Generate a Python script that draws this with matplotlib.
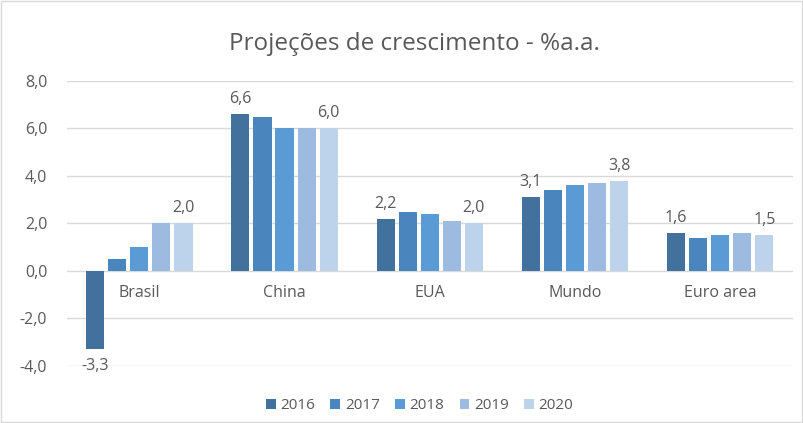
import matplotlib.pyplot as plt
import numpy as np
from matplotlib.patches import Rectangle

plt.rcParams['font.family'] = ['Open Sans', 'DejaVu Sans']

# dados
paises = ['Brasil', 'China', 'EUA', 'Mundo', 'Euro area']
anos = ['2016', '2017', '2018', '2019', '2020']
v2016 = [-3.3, 6.6, 2.2, 3.1, 1.6]
v2017 = [0.5, 6.5, 2.5, 3.4, 1.4]
v2018 = [1.0, 6.0, 2.4, 3.6, 1.5]
v2019 = [2.0, 6.0, 2.1, 3.7, 1.6]
v2020 = [2.0, 6.0, 2.0, 3.8, 1.5]
series = [v2016, v2017, v2018, v2019, v2020]
cores = ['#41719c', '#4a86bd', '#5b9bd5', '#9dbbe0', '#bdd3ec']

cinza = '#595959'
fs = 11.5

fig = plt.figure(figsize=(8.04, 4.23), dpi=100)
ax = fig.add_axes([0.083, 0.135, 0.903, 0.6735])

x = np.arange(len(paises))
passo = 0.152
larg = 0.125
for i, (vals, c, ano) in enumerate(zip(series, cores, anos)):
    pos = x + (i - 2) * passo
    ax.bar(pos, vals, width=larg, color=c, label=ano, zorder=3)
    # rotulos so no primeiro e ultimo ano
    if i in (0, 4):
        for px, v in zip(pos, vals):
            txt = f'{v:.1f}'.replace('.', ',')
            if v < 0:
                ax.text(px, v - 0.35, txt, ha='center', va='top', fontsize=fs, color=cinza)
            else:
                ax.text(px, v + 0.3, txt, ha='center', va='bottom', fontsize=fs, color=cinza)

for xi, p in zip(x, paises):
    ax.text(xi, -0.6, p, ha='center', va='top', fontsize=fs, color=cinza)

ax.set_ylim(-4, 8)
ax.set_xlim(-0.5, len(paises) - 0.5)
ax.set_yticks(np.arange(-4, 8.1, 2))
ax.set_yticklabels([f'{t:.1f}'.replace('.', ',') for t in np.arange(-4, 8.1, 2)])
ax.tick_params(axis='y', length=0, labelsize=fs, labelcolor=cinza, pad=14)
ax.set_xticks([])
ax.grid(axis='y', color='#d9d9d9', linewidth=1, zorder=0)
for s in ax.spines.values():
    s.set_visible(False)

fig.suptitle('Projeções de crescimento - %a.a.', x=0.515, y=0.925, fontsize=17.5, color=cinza)

ax.legend(loc='upper center', bbox_to_anchor=(0.486, -0.065), ncol=5, frameon=False,
          fontsize=11, labelcolor=cinza, handlelength=0.65, handleheight=0.65,
          handletextpad=0.3, columnspacing=1.0)

fig.patches.append(Rectangle((0.001, 0.002), 0.997, 0.995, transform=fig.transFigure,
                             fill=False, edgecolor='#d9d9d9', linewidth=1))

fig.savefig('out.png', dpi=100)
